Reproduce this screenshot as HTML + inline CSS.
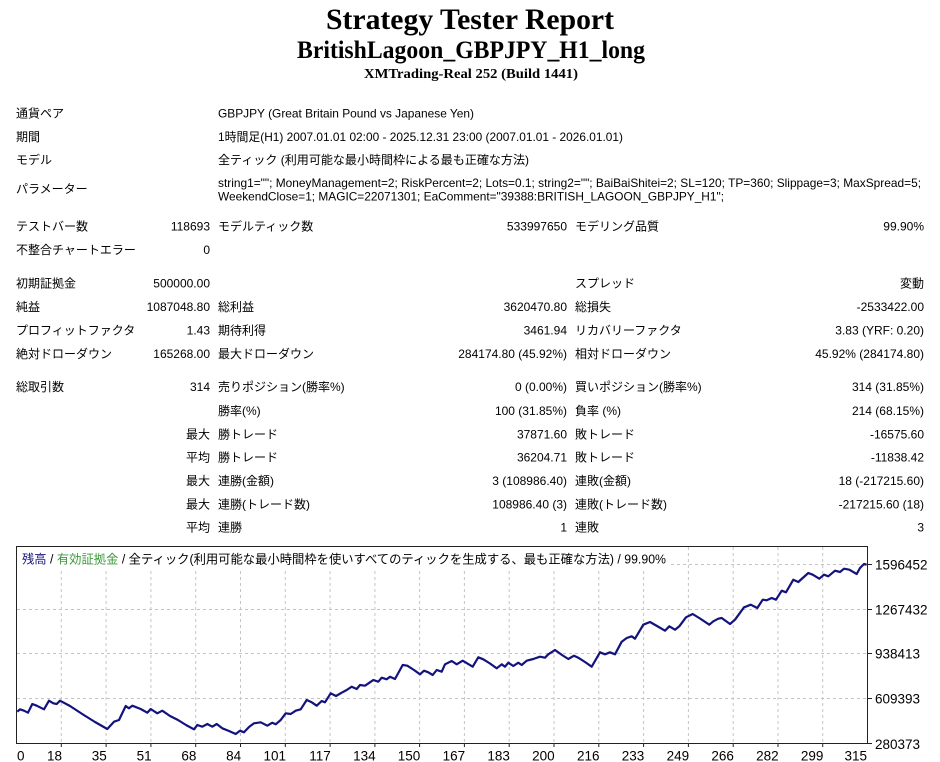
<!DOCTYPE html>
<html>
<head>
<meta charset="utf-8">
<style>
html,body{margin:0;padding:0;background:#fff;}
svg{display:block;}
.t{font-family:"Liberation Sans","Noto Sans CJK JP",sans-serif;font-size:12px;fill:#000;}
.h{font-family:"Liberation Serif","Noto Serif CJK SC",serif;font-weight:bold;fill:#000;}
.ax{font-family:"Liberation Sans","Noto Sans CJK JP",sans-serif;font-size:13.5px;fill:#000;}
</style>
</head>
<body>
<svg width="940" height="762" viewBox="0 0 940 762" xmlns="http://www.w3.org/2000/svg">
<rect x="0" y="0" width="940" height="762" fill="#fff"/>

<!-- Header -->
<text class="h" x="470" y="29" font-size="29.5" text-anchor="middle" textLength="288" lengthAdjust="spacingAndGlyphs">Strategy Tester Report</text>
<text class="h" x="471" y="58" font-size="25" text-anchor="middle" textLength="348" lengthAdjust="spacingAndGlyphs">BritishLagoon_GBPJPY_H1_long</text>
<text class="h" x="471" y="78" font-size="14" text-anchor="middle" textLength="214" lengthAdjust="spacingAndGlyphs">XMTrading-Real 252 (Build 1441)</text>

<!-- Top info -->
<text class="t" x="16" y="117.4">通貨ペア</text>
<text class="t" x="218" y="117.4" textLength="256" lengthAdjust="spacingAndGlyphs">GBPJPY (Great Britain Pound vs Japanese Yen)</text>
<text class="t" x="16" y="141">期間</text>
<text class="t" x="218" y="141" textLength="405" lengthAdjust="spacingAndGlyphs">1時間足(H1) 2007.01.01 02:00 - 2025.12.31 23:00 (2007.01.01 - 2026.01.01)</text>
<text class="t" x="16" y="164.2">モデル</text>
<text class="t" x="218" y="164.2" textLength="311" lengthAdjust="spacingAndGlyphs">全ティック (利用可能な最小時間枠による最も正確な方法)</text>
<text class="t" x="16" y="192.8">パラメーター</text>
<text class="t" x="218" y="187" textLength="703" lengthAdjust="spacingAndGlyphs">string1=""; MoneyManagement=2; RiskPercent=2; Lots=0.1; string2=""; BaiBaiShitei=2; SL=120; TP=360; Slippage=3; MaxSpread=5;</text>
<text class="t" x="218" y="200.5" textLength="506" lengthAdjust="spacingAndGlyphs">WeekendClose=1; MAGIC=22071301; EaComment="39388:BRITISH_LAGOON_GBPJPY_H1";</text>

<!-- Stats rows -->
<g class="t">
<text x="16" y="230.4">テストバー数</text>
<text x="210" y="230.4" text-anchor="end">118693</text>
<text x="218" y="230.4">モデルティック数</text>
<text x="567" y="230.4" text-anchor="end">533997650</text>
<text x="575" y="230.4">モデリング品質</text>
<text x="924" y="230.4" text-anchor="end">99.90%</text>

<text x="16" y="254.2">不整合チャートエラー</text>
<text x="210" y="254.2" text-anchor="end">0</text>

<text x="16" y="287.6">初期証拠金</text>
<text x="210" y="287.6" text-anchor="end">500000.00</text>
<text x="575" y="287.6">スプレッド</text>
<text x="924" y="287.6" text-anchor="end">変動</text>

<text x="16" y="311">純益</text>
<text x="210" y="311" text-anchor="end">1087048.80</text>
<text x="218" y="311">総利益</text>
<text x="567" y="311" text-anchor="end">3620470.80</text>
<text x="575" y="311">総損失</text>
<text x="924" y="311" text-anchor="end">-2533422.00</text>

<text x="16" y="334.4">プロフィットファクタ</text>
<text x="210" y="334.4" text-anchor="end">1.43</text>
<text x="218" y="334.4">期待利得</text>
<text x="567" y="334.4" text-anchor="end">3461.94</text>
<text x="575" y="334.4">リカバリーファクタ</text>
<text x="924" y="334.4" text-anchor="end">3.83 (YRF: 0.20)</text>

<text x="16" y="358.2">絶対ドローダウン</text>
<text x="210" y="358.2" text-anchor="end">165268.00</text>
<text x="218" y="358.2">最大ドローダウン</text>
<text x="567" y="358.2" text-anchor="end">284174.80 (45.92%)</text>
<text x="575" y="358.2">相対ドローダウン</text>
<text x="924" y="358.2" text-anchor="end">45.92% (284174.80)</text>

<text x="16" y="391">総取引数</text>
<text x="210" y="391" text-anchor="end">314</text>
<text x="218" y="391">売りポジション(勝率%)</text>
<text x="567" y="391" text-anchor="end">0 (0.00%)</text>
<text x="575" y="391">買いポジション(勝率%)</text>
<text x="924" y="391" text-anchor="end">314 (31.85%)</text>

<text x="218" y="414.8">勝率(%)</text>
<text x="567" y="414.8" text-anchor="end">100 (31.85%)</text>
<text x="575" y="414.8">負率 (%)</text>
<text x="924" y="414.8" text-anchor="end">214 (68.15%)</text>

<text x="210" y="438.3" text-anchor="end">最大</text>
<text x="218" y="438.3">勝トレード</text>
<text x="567" y="438.3" text-anchor="end">37871.60</text>
<text x="575" y="438.3">敗トレード</text>
<text x="924" y="438.3" text-anchor="end">-16575.60</text>

<text x="210" y="461.7" text-anchor="end">平均</text>
<text x="218" y="461.7">勝トレード</text>
<text x="567" y="461.7" text-anchor="end">36204.71</text>
<text x="575" y="461.7">敗トレード</text>
<text x="924" y="461.7" text-anchor="end">-11838.42</text>

<text x="210" y="485" text-anchor="end">最大</text>
<text x="218" y="485">連勝(金額)</text>
<text x="567" y="485" text-anchor="end">3 (108986.40)</text>
<text x="575" y="485">連敗(金額)</text>
<text x="924" y="485" text-anchor="end">18 (-217215.60)</text>

<text x="210" y="508.4" text-anchor="end">最大</text>
<text x="218" y="508.4">連勝(トレード数)</text>
<text x="567" y="508.4" text-anchor="end">108986.40 (3)</text>
<text x="575" y="508.4">連敗(トレード数)</text>
<text x="924" y="508.4" text-anchor="end">-217215.60 (18)</text>

<text x="210" y="531.7" text-anchor="end">平均</text>
<text x="218" y="531.7">連勝</text>
<text x="567" y="531.7" text-anchor="end">1</text>
<text x="575" y="531.7">連敗</text>
<text x="924" y="531.7" text-anchor="end">3</text>
</g>

<!-- Chart -->
<g stroke="#c4c4c4" stroke-width="1" stroke-dasharray="3,3" fill="none">
<line x1="61.3" y1="547" x2="61.3" y2="743"/>
<line x1="106.1" y1="547" x2="106.1" y2="743"/>
<line x1="150.9" y1="547" x2="150.9" y2="743"/>
<line x1="195.7" y1="547" x2="195.7" y2="743"/>
<line x1="240.5" y1="547" x2="240.5" y2="743"/>
<line x1="285.3" y1="547" x2="285.3" y2="743"/>
<line x1="330.1" y1="547" x2="330.1" y2="743"/>
<line x1="374.9" y1="547" x2="374.9" y2="743"/>
<line x1="419.6" y1="547" x2="419.6" y2="743"/>
<line x1="464.4" y1="547" x2="464.4" y2="743"/>
<line x1="509.2" y1="547" x2="509.2" y2="743"/>
<line x1="554" y1="547" x2="554" y2="743"/>
<line x1="598.8" y1="547" x2="598.8" y2="743"/>
<line x1="643.6" y1="547" x2="643.6" y2="743"/>
<line x1="688.4" y1="547" x2="688.4" y2="743"/>
<line x1="733.2" y1="547" x2="733.2" y2="743"/>
<line x1="778" y1="547" x2="778" y2="743"/>
<line x1="822.7" y1="547" x2="822.7" y2="743"/>
<line x1="17" y1="564.5" x2="867" y2="564.5"/>
<line x1="17" y1="609.5" x2="867" y2="609.5"/>
<line x1="17" y1="653.5" x2="867" y2="653.5"/>
<line x1="17" y1="698.5" x2="867" y2="698.5"/>
</g>

<!-- chart title background & text -->
<rect x="17" y="547" width="652" height="22" fill="#fff"/>
<text x="22" y="563.5" font-family="'Liberation Sans','Noto Sans CJK JP',sans-serif" font-size="12.5" textLength="644" lengthAdjust="spacingAndGlyphs"><tspan fill="#1a1a80">残高</tspan><tspan fill="#000"> / </tspan><tspan fill="#3d9a3d">有効証拠金</tspan><tspan fill="#000"> / 全ティック(利用可能な最小時間枠を使いすべてのティックを生成する、最も正確な方法) / 99.90%</tspan></text>

<!-- frame -->
<rect x="16.5" y="546.5" width="851" height="197" fill="none" stroke="#222" stroke-width="1"/>
<g stroke="#222" stroke-width="1">
<line x1="868" y1="564.5" x2="872" y2="564.5"/>
<line x1="868" y1="609.5" x2="872" y2="609.5"/>
<line x1="868" y1="653.5" x2="872" y2="653.5"/>
<line x1="868" y1="698.5" x2="872" y2="698.5"/>
<line x1="868" y1="743.5" x2="872" y2="743.5"/>
<line x1="61.3" y1="744" x2="61.3" y2="747"/>
<line x1="106.1" y1="744" x2="106.1" y2="747"/>
<line x1="150.9" y1="744" x2="150.9" y2="747"/>
<line x1="195.7" y1="744" x2="195.7" y2="747"/>
<line x1="240.5" y1="744" x2="240.5" y2="747"/>
<line x1="285.3" y1="744" x2="285.3" y2="747"/>
<line x1="330.1" y1="744" x2="330.1" y2="747"/>
<line x1="374.9" y1="744" x2="374.9" y2="747"/>
<line x1="419.6" y1="744" x2="419.6" y2="747"/>
<line x1="464.4" y1="744" x2="464.4" y2="747"/>
<line x1="509.2" y1="744" x2="509.2" y2="747"/>
<line x1="554" y1="744" x2="554" y2="747"/>
<line x1="598.8" y1="744" x2="598.8" y2="747"/>
<line x1="643.6" y1="744" x2="643.6" y2="747"/>
<line x1="688.4" y1="744" x2="688.4" y2="747"/>
<line x1="733.2" y1="744" x2="733.2" y2="747"/>
<line x1="778" y1="744" x2="778" y2="747"/>
<line x1="822.7" y1="744" x2="822.7" y2="747"/>
</g>

<!-- equity line -->
<polyline fill="none" stroke="#13137d" stroke-width="2.2" stroke-linejoin="round" points="
17.3,711.7 20,709.3 24,710.7 28,712.7 32.3,704 36.7,705.7 44,709.3 49,700.7 53.3,703.3 56.7,704 60,700.7
70,706 83,714.5 95,722 107.3,729 114,721.7 119,720 125.7,706 129,708.3 132.3,705.7 140.7,709 147.3,712.7
150.7,709 157.3,713.3 162.3,710.7 170,716 178,720 186,725 194,729.3 197.3,725 202.3,726.7 207.3,724
212.3,726.7 216.7,724 222.3,728.3 229,731 235.7,734 240,730.7 244,732.3 249,727 254,723.3 260.7,722.3
267.3,725.7 272.3,722.7 275.7,724.3 280.7,720 285.7,713.3 290.7,714 295.7,710.7 300.7,709.3 306.7,700
311.7,702.3 316.7,705.7 321.7,701 325,702.3 330.7,693.3 336,696 341.7,692.7 346.7,690 351.7,686.7
356.7,689 360,685 365,685.7 370,682.3 373.3,680 378.3,681.7 381.7,677.7 386.7,679.3 390,676.7 395,679
402.7,665 407.3,665.7 414,670 420,674.3 424,670.7 428.3,672.3 432.7,675 436.7,670 441.7,671.7 445,664.3
451.7,661 456.7,664.3 462.7,660.7 472.7,666.7 478.3,657.3 483.3,659.3 490,663.5 496.7,668.3 501.7,664.3
505,666.7 508.3,662.7 513.3,666 518.3,662.7 521.7,665 526.7,660.7 533.3,659 540,656.7 545,657.7
548.3,654.3 555,650 562,655 568.3,659 574,655.7 578.3,657.7 585,662 591.7,666.7 600,652.3 605,654.3
610,652.3 615,654.3 621.7,641.7 626.7,638 631.7,636.3 635,638.7 643.3,624.7 650,622 657,626 665,630.7
669.3,626.3 675,629.7 679.3,626.3 686,617.3 692.7,614 700,618.5 709.3,624.7 713.3,621.3 718.3,618.7
721.7,618 730,624 735,619.7 744,607.3 746.7,606.3 750.7,604.7 757.3,608 762.7,599.7 766.7,600.3
771.7,598 776,599.7 781.7,590.7 786,592.3 793.3,579.7 798.3,582 802.7,578 808.3,573 812.7,574.7
819.3,578.7 824,574.7 828.3,576.3 835,570.7 840,572 844,568.7 849.3,569.7 856.7,574 860,568 864,564 866.7,564.7"/>

<!-- Y axis labels -->
<g class="ax">
<text x="875" y="569.5">1596452</text>
<text x="875" y="614.3">1267432</text>
<text x="875" y="658.5">938413</text>
<text x="875" y="703.3">609393</text>
<text x="875" y="748.8">280373</text>
</g>

<!-- X axis labels -->
<g class="ax">
<text x="17" y="760.5">0</text>
<text x="62" y="760.5" text-anchor="end">18</text>
<text x="106.8" y="760.5" text-anchor="end">35</text>
<text x="151.6" y="760.5" text-anchor="end">51</text>
<text x="196.4" y="760.5" text-anchor="end">68</text>
<text x="241.2" y="760.5" text-anchor="end">84</text>
<text x="286" y="760.5" text-anchor="end">101</text>
<text x="330.8" y="760.5" text-anchor="end">117</text>
<text x="375.6" y="760.5" text-anchor="end">134</text>
<text x="420.3" y="760.5" text-anchor="end">150</text>
<text x="465.1" y="760.5" text-anchor="end">167</text>
<text x="509.9" y="760.5" text-anchor="end">183</text>
<text x="554.7" y="760.5" text-anchor="end">200</text>
<text x="599.5" y="760.5" text-anchor="end">216</text>
<text x="644.3" y="760.5" text-anchor="end">233</text>
<text x="689.1" y="760.5" text-anchor="end">249</text>
<text x="733.9" y="760.5" text-anchor="end">266</text>
<text x="778.7" y="760.5" text-anchor="end">282</text>
<text x="823.4" y="760.5" text-anchor="end">299</text>
<text x="867" y="760.5" text-anchor="end">315</text>
</g>
</svg>
</body>
</html>
